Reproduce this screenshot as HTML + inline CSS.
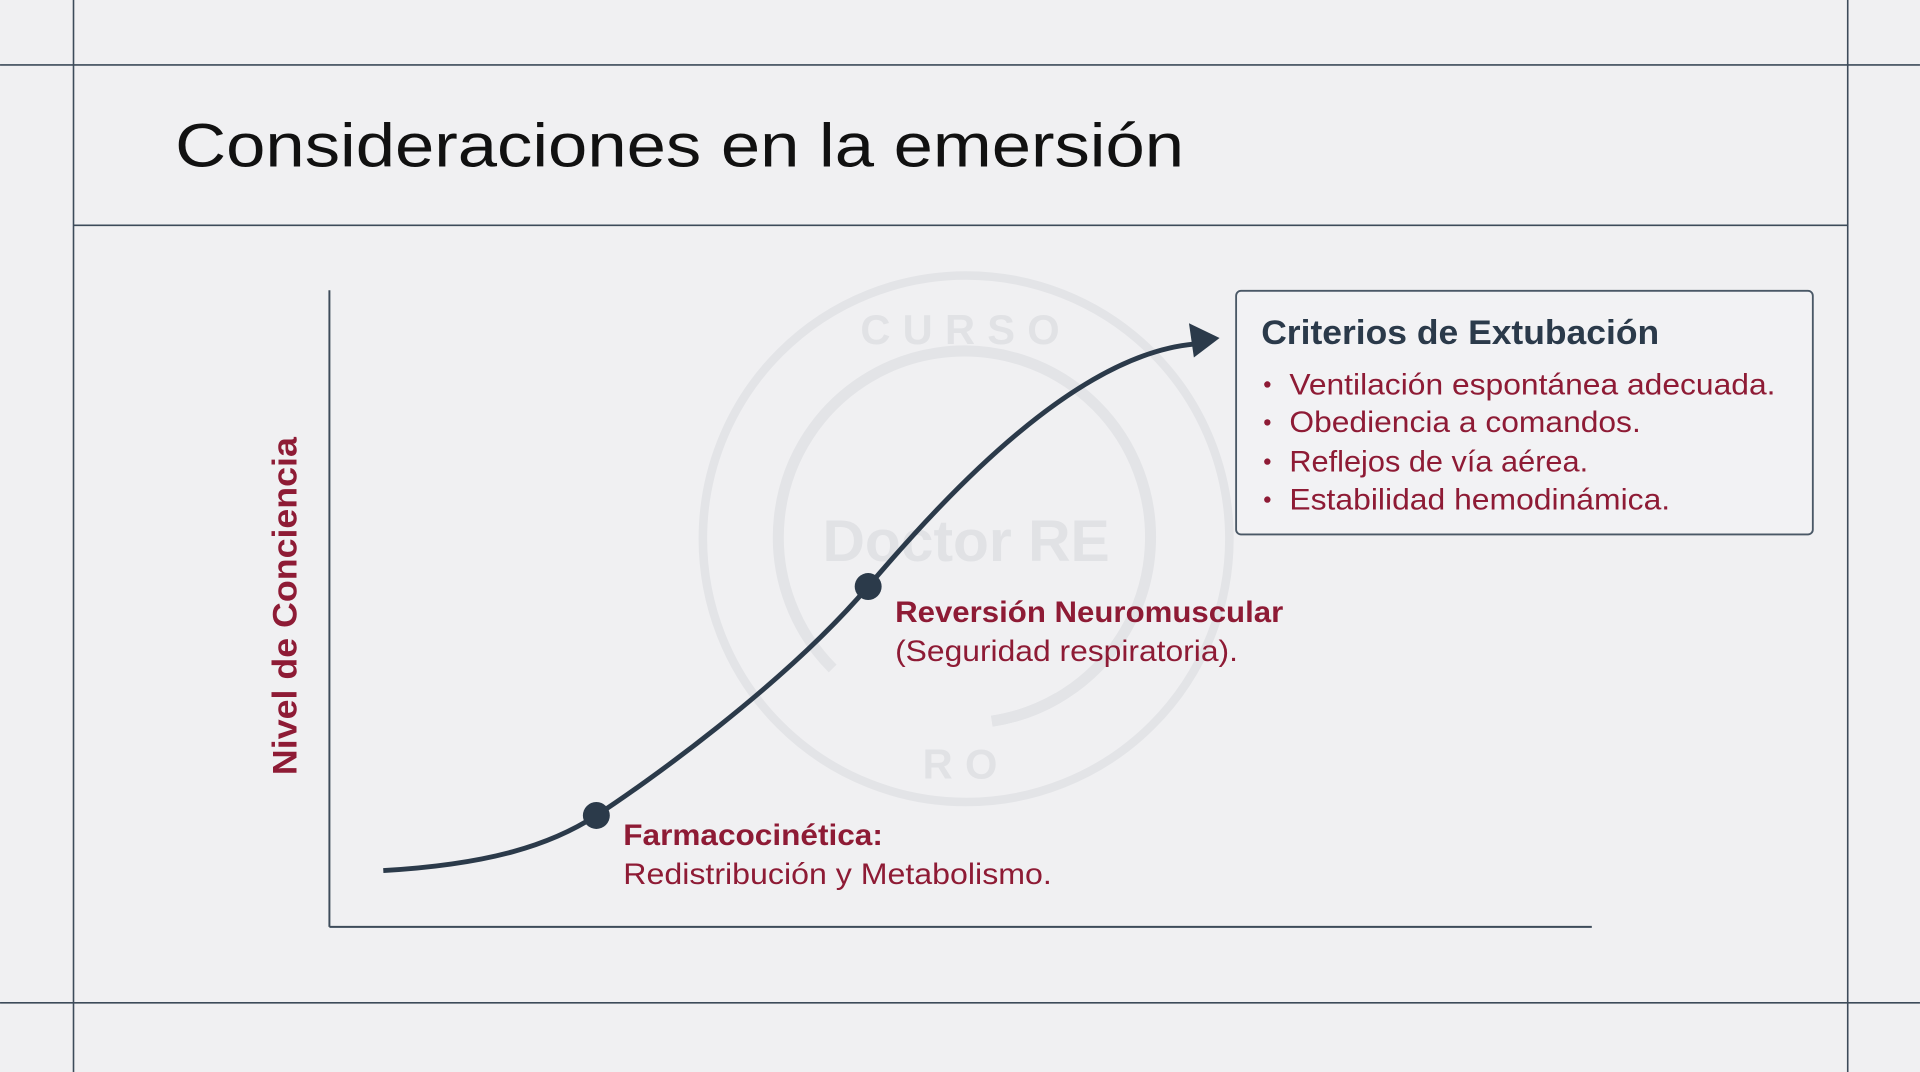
<!DOCTYPE html>
<html><head><meta charset="utf-8"><style>
html,body{margin:0;padding:0;background:#f0f0f2;}
svg{display:block;}
</style></head><body>
<svg width="1920" height="1072" viewBox="0 0 1568 875.5" xmlns="http://www.w3.org/2000/svg" font-family="Liberation Sans, sans-serif">
<rect x="0" y="0" width="1568" height="876" fill="#f0f0f2"/>
<g stroke="#3d4b5a" stroke-width="1.3">
<line x1="60" y1="0" x2="60" y2="876"/>
<line x1="1509" y1="0" x2="1509" y2="876"/>
<line x1="0" y1="53" x2="1568" y2="53"/>
<line x1="60" y1="184" x2="1509" y2="184"/>
<line x1="0" y1="819" x2="1568" y2="819"/>
</g>
<text x="143" y="136" font-size="50" fill="#111" textLength="824" lengthAdjust="spacingAndGlyphs">Consideraciones en la emersión</text>
<!-- watermark -->
<g fill="none" stroke="#e3e4e7" stroke-width="7">
<circle cx="789" cy="440" r="215"/>
<path d="M 810 589 A 152 152 0 1 0 680 546" stroke-width="9"/>
<path d="M 864 570 A 152 152 0 0 1 810 589" stroke-width="9"/>
</g>
<g fill="#e1e2e5" font-weight="bold" text-anchor="middle">
<text x="789" y="281" font-size="34" letter-spacing="10">CURSO</text>
<text x="789" y="458" font-size="48">Doctor RE</text>
<text x="789" y="636" font-size="34" letter-spacing="10">RO</text>
</g>
<!-- axes -->
<g stroke="#3d4b5a" stroke-width="1.6">
<line x1="269" y1="237" x2="269" y2="757"/>
<line x1="269" y1="757" x2="1300" y2="757"/>
</g>
<text transform="translate(242,495) rotate(-90)" text-anchor="middle" font-size="28" font-weight="bold" fill="#8e1b35" textLength="276" lengthAdjust="spacingAndGlyphs">Nivel de Conciencia</text>
<!-- curve -->
<path d="M313 711 C 400 706, 450 690, 487 666 S 640 560, 709 479 S 880 290, 975 281" fill="none" stroke="#2b3a4a" stroke-width="4"/>
<polygon points="996,276 971,264 975,292" fill="#2b3a4a"/>
<circle cx="487" cy="666" r="11" fill="#2b3a4a"/>
<circle cx="709" cy="479" r="11" fill="#2b3a4a"/>
<g fill="#8e1b35" font-size="24">
<text x="509" y="690" font-weight="bold" textLength="212" lengthAdjust="spacingAndGlyphs">Farmacocinética:</text>
<text x="509" y="722" textLength="350" lengthAdjust="spacingAndGlyphs">Redistribución y Metabolismo.</text>
<text x="731" y="508" font-weight="bold" textLength="317" lengthAdjust="spacingAndGlyphs">Reversión Neuromuscular</text>
<text x="731" y="540" textLength="280" lengthAdjust="spacingAndGlyphs">(Seguridad respiratoria).</text>
</g>
<!-- box -->
<rect x="1009.5" y="237.5" width="471" height="199" rx="4" fill="#f2f2f4" stroke="#4a5866" stroke-width="1.5"/>
<text x="1030" y="281" font-size="28" font-weight="bold" fill="#2b3a4a" textLength="325" lengthAdjust="spacingAndGlyphs">Criterios de Extubación</text>
<g fill="#8e1b35" font-size="24">
<circle cx="1035" cy="314" r="2.6"/><text x="1053" y="322" textLength="397" lengthAdjust="spacingAndGlyphs">Ventilación espontánea adecuada.</text>
<circle cx="1035" cy="345" r="2.6"/><text x="1053" y="353" textLength="287" lengthAdjust="spacingAndGlyphs">Obediencia a comandos.</text>
<circle cx="1035" cy="377" r="2.6"/><text x="1053" y="385" textLength="244" lengthAdjust="spacingAndGlyphs">Reflejos de vía aérea.</text>
<circle cx="1035" cy="408" r="2.6"/><text x="1053" y="416" textLength="311" lengthAdjust="spacingAndGlyphs">Estabilidad hemodinámica.</text>
</g>
</svg>
</body></html>
